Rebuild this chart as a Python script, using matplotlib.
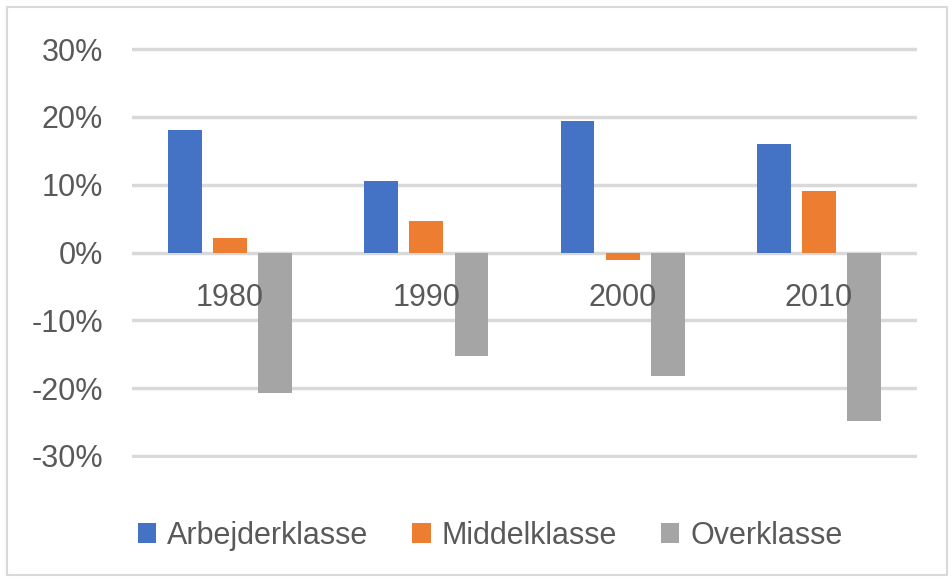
import matplotlib.pyplot as plt
import matplotlib.patches as mpatches
import numpy as np

years = ["1980", "1990", "2000", "2010"]
series = ["Arbejderklasse", "Middelklasse", "Overklasse"]
arbejder = [18.1, 10.6, 19.4, 16.0]
middel = [2.2, 4.7, -1.1, 9.0]
over = [-20.7, -15.2, -18.2, -24.8]
yticks = [-30, -20, -10, 0, 10, 20, 30]

colors = ["#4472C4", "#ED7D31", "#A5A5A5"]
txt = "#595959"

plt.rcParams['font.family'] = ['Liberation Sans', 'DejaVu Sans']

fig = plt.figure(figsize=(9.52, 5.79), dpi=100)
ax = fig.add_axes([132 / 952, 1 - 458 / 579, 785 / 952, 411 / 579])

x = np.arange(len(years))
w = 0.173
step = 0.23
for i, (vals, name) in enumerate(zip([arbejder, middel, over], series)):
    ax.bar(x + (i - 1) * step, vals, width=w, color=colors[i], label=name, zorder=2)

ax.set_xlim(-0.5, len(years) - 0.5)
ax.set_ylim(-30.3, 30.3)
ax.set_yticks(yticks)
ax.set_yticklabels([f"{v}%" for v in yticks])
ax.grid(axis='y', color='#D9D9D9', linewidth=2.5)
ax.set_axisbelow(True)
ax.xaxis.set_zorder(5)  # year labels sit on top of the bars

for s in ['top', 'right', 'left']:
    ax.spines[s].set_visible(False)
ax.spines['bottom'].set_position(('data', 0))
ax.spines['bottom'].set_visible(False)

ax.set_xticks(x)
ax.set_xticklabels(years)
ax.tick_params(axis='x', length=0, pad=22, labelsize=22, labelcolor=txt)
ax.tick_params(axis='y', length=0, pad=21, labelsize=22, labelcolor=txt)

# legend under the plot
fig.legend(loc='center', bbox_to_anchor=(490 / 952, 1 - 536 / 579), ncol=3,
           frameon=False, fontsize=22, labelcolor=txt,
           handlelength=0.6, handleheight=0.65, handletextpad=0.35,
           columnspacing=1.45)

# light frame around the chart
fig.patches.append(mpatches.Rectangle((7 / 952, 4 / 579), 940 / 952, 568 / 579,
                                      transform=fig.transFigure, fill=False,
                                      edgecolor='#D9D9D9', linewidth=1.5))

fig.savefig("out.png", dpi=100)
